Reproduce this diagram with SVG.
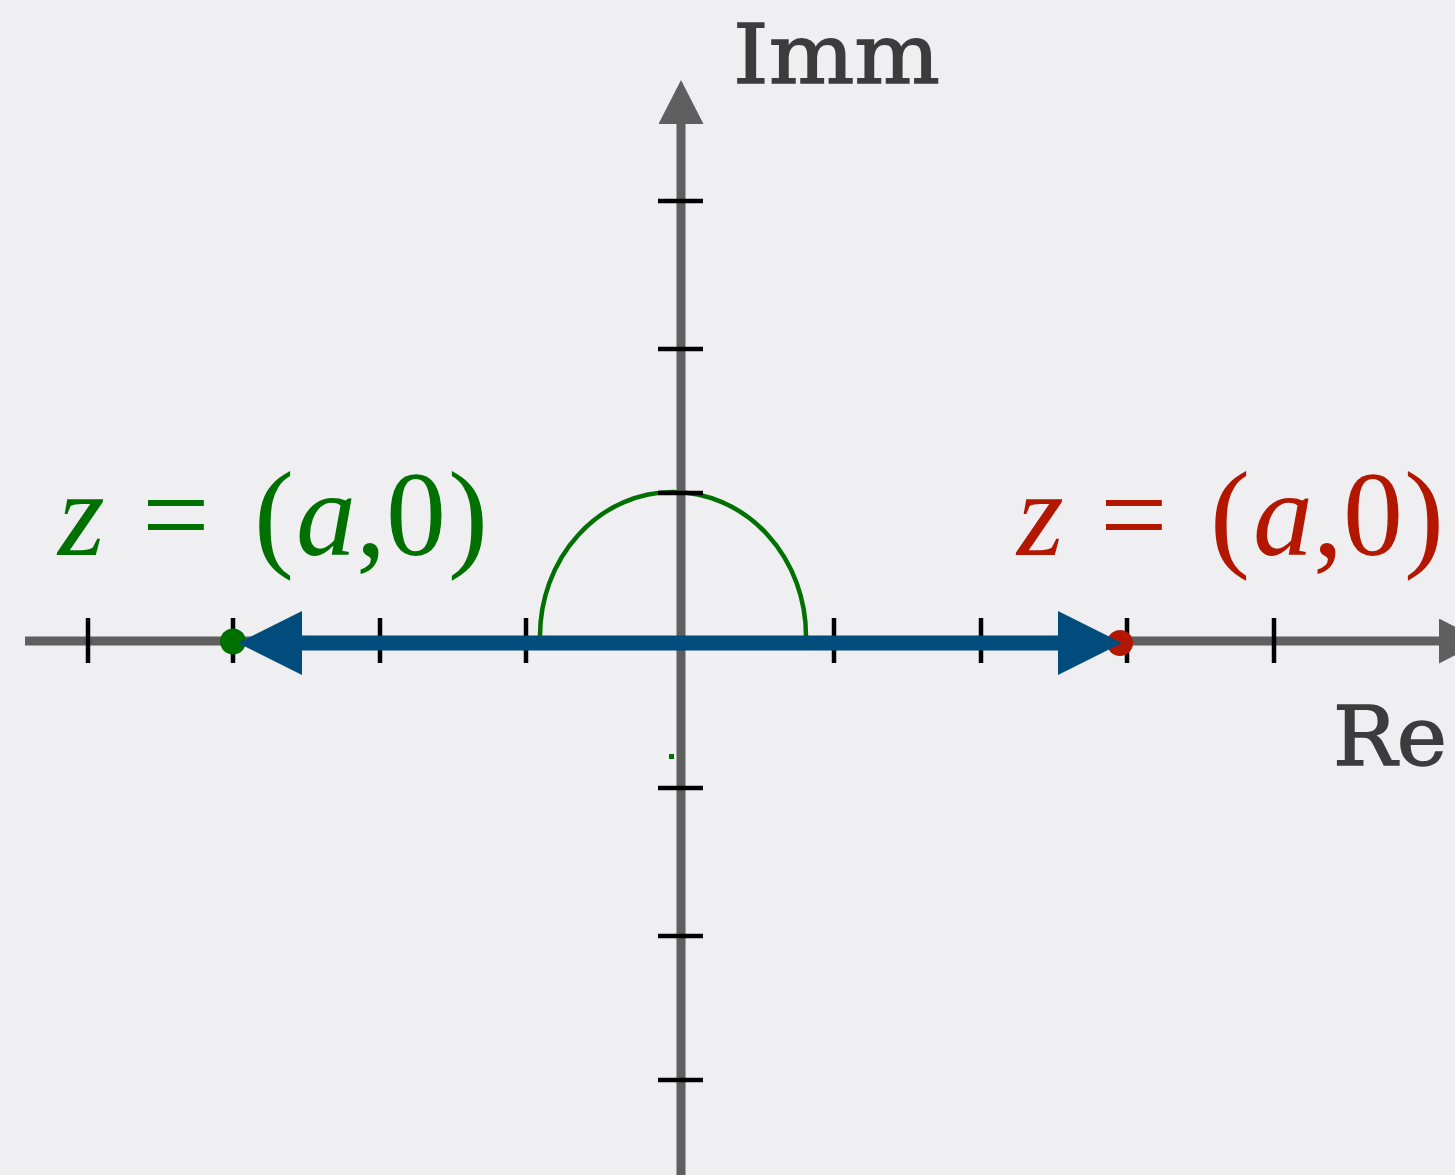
<svg xmlns="http://www.w3.org/2000/svg" width="1455" height="1175" viewBox="0 0 1455 1175">
<style>
.axis{stroke:#5f5f5f;stroke-width:9;fill:none}
.tick{stroke:#000;stroke-width:4.5}
.blue{stroke:#004c7c;stroke-width:15;fill:none}
.lbl{font-family:"DejaVu Serif",serif;font-size:82px;fill:#3c3c3c;stroke:#3c3c3c;stroke-width:1.5}
.math{font-family:"Liberation Serif","Times New Roman",serif;font-size:120px}
.it{font-style:italic}
</style>
<defs>
<marker id="axArrow" viewBox="0 0 44 45" refX="0" refY="22.5" markerWidth="44" markerHeight="45" markerUnits="userSpaceOnUse" orient="auto">
<path d="M0,0 L44,22.5 L0,45 z" fill="#5f5f5f"/>
</marker>
<marker id="blueArrow" viewBox="0 0 64 64" refX="0" refY="32" markerWidth="64" markerHeight="64" markerUnits="userSpaceOnUse" orient="auto">
<path d="M0,0 L64,32 L0,64 z" fill="#004c7c"/>
</marker>
</defs>
<rect width="1455" height="1175" fill="#efeef1"/>
<rect x="531" y="648" width="279" height="142" fill="#f0eff2"/>
<g id="semicircle">
<path d="M540,636 A133,144 0 0 1 806,636" fill="none" stroke="#007000" stroke-width="4.5"/>
</g>
<g id="axes">
<line class="axis" x1="25" y1="641" x2="1439" y2="641" marker-end="url(#axArrow)"/>
<line class="axis" x1="681" y1="1175" x2="681" y2="124" marker-end="url(#axArrow)"/>
</g>
<g id="ticks">
<line class="tick" x1="88" y1="618" x2="88" y2="663"/>
<line class="tick" x1="233" y1="618" x2="233" y2="663"/>
<line class="tick" x1="380" y1="618" x2="380" y2="663"/>
<line class="tick" x1="526" y1="618" x2="526" y2="663"/>
<line class="tick" x1="834" y1="618" x2="834" y2="663"/>
<line class="tick" x1="981" y1="618" x2="981" y2="663"/>
<line class="tick" x1="1127" y1="618" x2="1127" y2="663"/>
<line class="tick" x1="1274" y1="618" x2="1274" y2="663"/>
<line class="tick" x1="658" y1="201" x2="703" y2="201"/>
<line class="tick" x1="658" y1="349" x2="703" y2="349"/>
<line class="tick" x1="658" y1="493" x2="703" y2="493"/>
<line class="tick" x1="658" y1="788" x2="703" y2="788"/>
<line class="tick" x1="658" y1="936" x2="703" y2="936"/>
<line class="tick" x1="658" y1="1080" x2="703" y2="1080"/>
</g>
<g id="origin-mark">
<rect x="669" y="754" width="5" height="5" fill="#007000"/>
</g>
<g id="point-left">
<circle cx="233" cy="641.5" r="13" fill="#007000"/>
</g>
<g id="point-right">
<circle cx="1120" cy="643" r="13" fill="#b31700"/>
</g>
<g id="connectors">
<line class="blue" x1="681" y1="643" x2="302" y2="643" marker-end="url(#blueArrow)"/>
<line class="blue" x1="681" y1="643" x2="1058" y2="643" marker-end="url(#blueArrow)"/>
</g>
<g id="label-imm">
<text class="lbl" x="733" y="83" textLength="207" lengthAdjust="spacingAndGlyphs">Imm</text>
</g>
<g id="label-re">
<text class="lbl" x="1333" y="765" textLength="114" lengthAdjust="spacingAndGlyphs">Re</text>
</g>
<g id="label-green">
<text class="math" y="555" fill="#007000"><tspan class="it" x="58">z</tspan><tspan x="142">=</tspan><tspan x="254">(</tspan><tspan class="it" x="296">a</tspan><tspan>,0</tspan><tspan x="448">)</tspan></text>
</g>
<g id="label-red">
<text class="math" y="555" fill="#b31700"><tspan class="it" x="1017">z</tspan><tspan x="1100">=</tspan><tspan x="1210">(</tspan><tspan class="it" x="1253">a</tspan><tspan>,0</tspan><tspan x="1404">)</tspan></text>
</g>
</svg>
